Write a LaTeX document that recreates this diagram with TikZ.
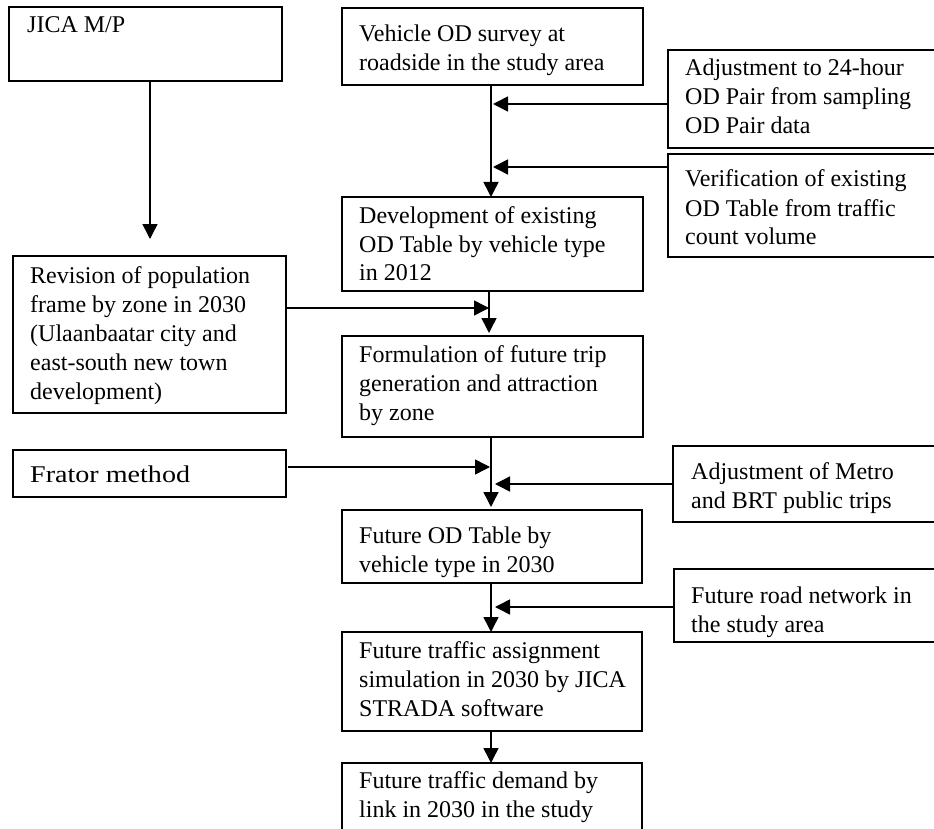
\documentclass[tikz,border=0pt]{standalone}
\usepackage{fontspec}
\setmainfont{Liberation Serif}
\newfontfamily\widefont[FakeStretch=1.17]{Liberation Serif}
\usetikzlibrary{arrows.meta,fit}
\newcommand{\mlines}[1]{\parbox[t]{330pt}{\raggedright #1}}
\begin{document}
\begin{tikzpicture}[x=1pt,y=-1pt,
  box/.style={draw=black, line width=1.5pt, inner sep=0pt, outer sep=0pt},
  txt/.style={inner sep=0pt, anchor=base west, font=\fontsize{24}{29}\selectfont},
  arr/.style={draw=black, line width=1.5pt, -{Triangle[length=15pt,width=15pt]}},
  ln/.style={draw=black, line width=1.5pt}]
\fill[white] (0,0) rectangle (934,829);
\useasboundingbox (0,0) rectangle (934,829);

% boxes
\node[box, fit={(9,7)(282,81)}] (jica) {};
\node[box, fit={(342,8)(643,85)}] (veh) {};
\node[box, fit={(668,50)(945,148)}] (adj) {};
\node[box, fit={(668,154)(945,257)}] (ver) {};
\node[box, fit={(342,197)(643,291)}] (dev) {};
\node[box, fit={(13,256)(286,413)}] (rev) {};
\node[box, fit={(342,336)(643,437)}] (form) {};
\node[box, fit={(13,450)(286,497)}] (fr) {};
\node[box, fit={(673,446)(945,522)}] (met) {};
\node[box, fit={(342,510)(642,583)}] (fod) {};
\node[box, fit={(674,569)(945,642)}] (road) {};
\node[box, fit={(342,632)(642,731)}] (asg) {};
\node[box, fit={(342,763)(642,850)}] (dem) {};

% texts
\node[txt] (tjica) at (27,33) {JICA M/P};
\node[txt] (tveh) at (359,42) {\mlines{Vehicle OD survey at\\roadside in the study area}};
\node[txt] (tadj) at (685,76) {\mlines{Adjustment to 24-hour\\OD Pair from sampling\\OD Pair data}};
\node[txt] (tver) at (685,187) {\mlines{Verification of existing\\OD Table from traffic\\count volume}};
\node[txt] (tdev) at (359,223) {\mlines{Development of existing\\OD Table by vehicle type\\in 2012}};
\node[txt] (trev) at (30,283) {\mlines{Revision of population\\frame by zone in 2030\\(Ulaanbaatar city and\\east-south new town\\development)}};
\node[txt] (tform) at (359,362) {\mlines{Formulation of future trip\\generation and attraction\\by zone}};
\node[txt, font=\fontsize{24}{29}\widefont] (tfr) at (30,482) {Frator method};
\node[txt] (tmet) at (691,479) {\mlines{Adjustment of Metro\\and BRT public trips}};
\node[txt] (tfod) at (359,543) {\mlines{Future OD Table by\\vehicle type in 2030}};
\node[txt] (troad) at (691,603) {\mlines{Future road network in\\the study area}};
\node[txt] (tasg) at (359,658) {\mlines{Future traffic assignment\\simulation in 2030 by JICA\\STRADA software}};
\node[txt] (tdem) at (359,788) {\mlines{Future traffic demand by\\link in 2030 in the study}};

% connector end points
\coordinate (cj) at (150,239);
\coordinate (c1) at (493,104);
\coordinate (c2) at (493,167);
\coordinate (c3) at (489,308);
\coordinate (c4) at (489,333);
\coordinate (c5) at (490,467);
\coordinate (c6) at (495,484);
\coordinate (c7) at (491,507);
\coordinate (c8) at (495,607);

% connectors
\draw[arr] (jica.south -| cj) -- (cj);
\draw[arr] (veh.south -| 491,0) -- (dev.north -| 491,0);
\draw[arr] (adj.west |- c1) -- (c1);
\draw[arr] (ver.west |- c2) -- (c2);
\draw[arr] (dev.south -| c4) -- (c4);
\draw[arr] (rev.east |- c3) -- (c3);
\draw[arr] (form.south -| c7) -- (c7);
\draw[arr] ([xshift=2pt]fr.east |- c5) -- (c5);
\draw[arr] (met.west |- c6) -- (c6);
\draw[arr] (fod.south -| 491,0) -- (asg.north -| 491,0);
\draw[arr] (road.west |- c8) -- (c8);
\draw[arr] (asg.south -| 491,0) -- (dem.north -| 491,0);
\end{tikzpicture}
\end{document}
